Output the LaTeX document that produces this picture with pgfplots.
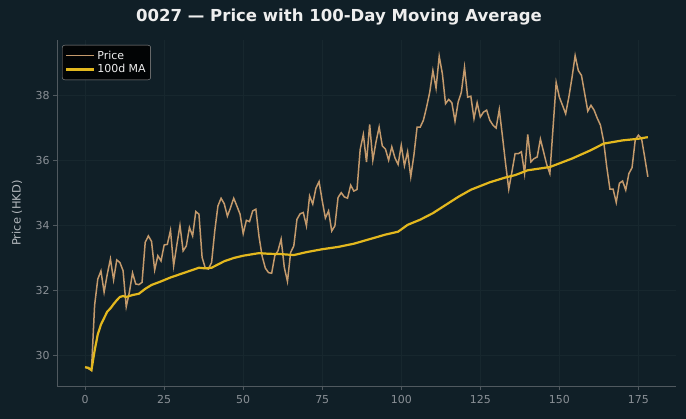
\documentclass[border=0pt]{standalone}
\usepackage{pgfplots}
\pgfplotsset{compat=1.18}
\usepackage{pgfplotstable}
\usepackage{fontspec}
\setmainfont{DejaVu Sans}

\definecolor{bg}{HTML}{101F27}
\definecolor{pricec}{HTML}{C49A6C}
\definecolor{mac}{HTML}{E3B81E}
\definecolor{spine}{HTML}{50595F}
\definecolor{tickc}{HTML}{8A9096}
\definecolor{gridc}{HTML}{17272E}
\definecolor{labelc}{HTML}{B4B9BE}
\definecolor{titlec}{HTML}{EEEEEE}

% daily closing price
\pgfplotstableread{
day price
0 29.64
1 29.60
2 29.54
3 31.55
4 32.35
5 32.60
6 31.95
7 32.50
8 32.97
9 32.33
10 32.94
11 32.86
12 32.61
13 31.50
14 31.95
15 32.54
16 32.20
17 32.18
18 32.25
19 33.48
20 33.68
21 33.51
22 32.63
23 33.07
24 32.91
25 33.40
26 33.42
27 33.85
28 32.76
29 33.40
30 34.00
31 33.22
32 33.37
33 33.94
34 33.68
35 34.43
36 34.35
37 33.02
38 32.69
39 32.66
40 32.86
41 33.83
42 34.60
43 34.84
44 34.67
45 34.29
46 34.55
47 34.84
48 34.60
49 34.35
50 33.75
51 34.16
52 34.12
53 34.45
54 34.50
55 33.66
56 33.05
57 32.69
58 32.55
59 32.53
60 33.07
61 33.22
62 33.58
63 32.71
64 32.28
65 33.17
66 33.37
67 34.19
68 34.36
69 34.40
70 33.99
71 34.91
72 34.66
73 35.15
74 35.35
75 34.76
76 34.23
77 34.45
78 33.83
79 33.99
80 34.86
81 35.01
82 34.88
83 34.84
84 35.24
85 35.06
86 35.11
87 36.34
88 36.80
89 35.95
90 37.11
91 36.01
92 36.57
93 37.03
94 36.45
95 36.35
96 36.01
97 36.42
98 36.08
99 35.88
100 36.47
101 35.84
102 36.27
103 35.50
104 36.17
105 37.03
106 37.03
107 37.24
108 37.64
109 38.10
110 38.77
111 38.23
112 39.21
113 38.67
114 37.75
115 37.88
116 37.78
117 37.21
118 37.80
119 38.10
120 38.87
121 37.95
122 37.98
123 37.29
124 37.78
125 37.34
126 37.49
127 37.55
128 37.24
129 37.09
130 37.00
131 37.57
132 36.75
133 35.90
134 35.12
135 35.65
136 36.21
137 36.21
138 36.27
139 35.60
140 36.80
141 35.96
142 36.06
143 36.11
144 36.66
145 36.27
146 35.88
147 35.60
148 37.00
149 38.40
150 37.95
151 37.70
152 37.44
153 37.95
154 38.55
155 39.23
156 38.77
157 38.62
158 38.07
159 37.52
160 37.70
161 37.55
162 37.30
163 37.09
164 36.60
165 35.80
166 35.12
167 35.12
168 34.71
169 35.30
170 35.37
171 35.09
172 35.60
173 35.78
174 36.63
175 36.78
176 36.68
177 36.10
178 35.50
}\pricetable

% 100-day moving average
\pgfplotstableread{
day ma
0 29.64
1 29.62
2 29.55
3 30.15
4 30.65
5 30.95
6 31.15
7 31.35
8 31.45
9 31.58
10 31.70
11 31.80
12 31.83
13 31.80
15 31.86
17 31.90
19 32.05
21 32.17
24 32.28
27 32.40
30 32.50
33 32.60
36 32.70
38 32.68
40 32.70
42 32.80
44 32.90
47 33.00
50 33.07
55 33.15
58 33.13
62 33.12
66 33.09
70 33.18
75 33.27
80 33.34
85 33.44
90 33.58
95 33.72
99 33.81
102 34.02
106 34.18
110 34.38
114 34.63
118 34.88
122 35.10
128 35.33
133 35.48
136 35.55
140 35.70
147 35.80
154 36.06
160 36.32
164 36.52
170 36.62
175 36.67
178 36.72
}\matable

\begin{document}
\begin{tikzpicture}
\useasboundingbox (0,0) rectangle (686bp,419bp);
\fill[bg] (0,0) rectangle (686bp,419bp);
\node[font=\bfseries\fontsize{16.6}{19}\selectfont, text=titlec] at (339bp,402bp)
  {0027 — Price with 100-Day Moving Average};
\begin{axis}[
  at={(57bp,33bp)}, anchor=south west,
  width=619bp, height=346bp, scale only axis,
  xmin=-8.9, xmax=186.9, ymin=29.06, ymax=39.71,
  axis lines*=left,
  axis line style={spine, line width=0.8bp},
  xtick={0,25,...,175}, ytick={30,32,...,38},
  tick align=outside, major tick length=4bp,
  tick style={spine, line width=0.8bp},
  ticklabel style={font=\fontsize{11}{13}\selectfont, text=tickc},
  xticklabel style={yshift=-2bp},
  /pgf/number format/assume math mode=true,
  grid=major, grid style={gridc, line width=0.6bp},
  ylabel={Price (HKD)},
  ylabel style={at={(rel axis cs:-0.0646,0.5)}, anchor=center,
    font=\fontsize{11.5}{14}\selectfont, text=labelc},
  legend cell align=left,
  legend style={at={(rel axis cs:0,1)}, anchor=north west,
    xshift=5bp, yshift=-5bp,
    fill=black, fill opacity=0.85, text opacity=1,
    draw=gray!80, rounded corners=2.5bp,
    font=\fontsize{11}{13}\selectfont, text=titlec,
    inner xsep=3bp, inner ysep=3.5bp, row sep=0bp},
  % line sample plus a little clear space before the entry text
  legend image code/.code={\draw[#1] (0bp,0bp) -- (23bp,0bp);
    \path (0bp,0bp) -- (28bp,0bp);},
]
\addplot[pricec, line width=1.5bp] table[x=day, y=price] {\pricetable};
\addlegendentry{Price}
\addplot[mac, line width=2.2bp] table[x=day, y=ma] {\matable};
\addlegendentry{100d MA}
\end{axis}
\end{tikzpicture}
\end{document}
